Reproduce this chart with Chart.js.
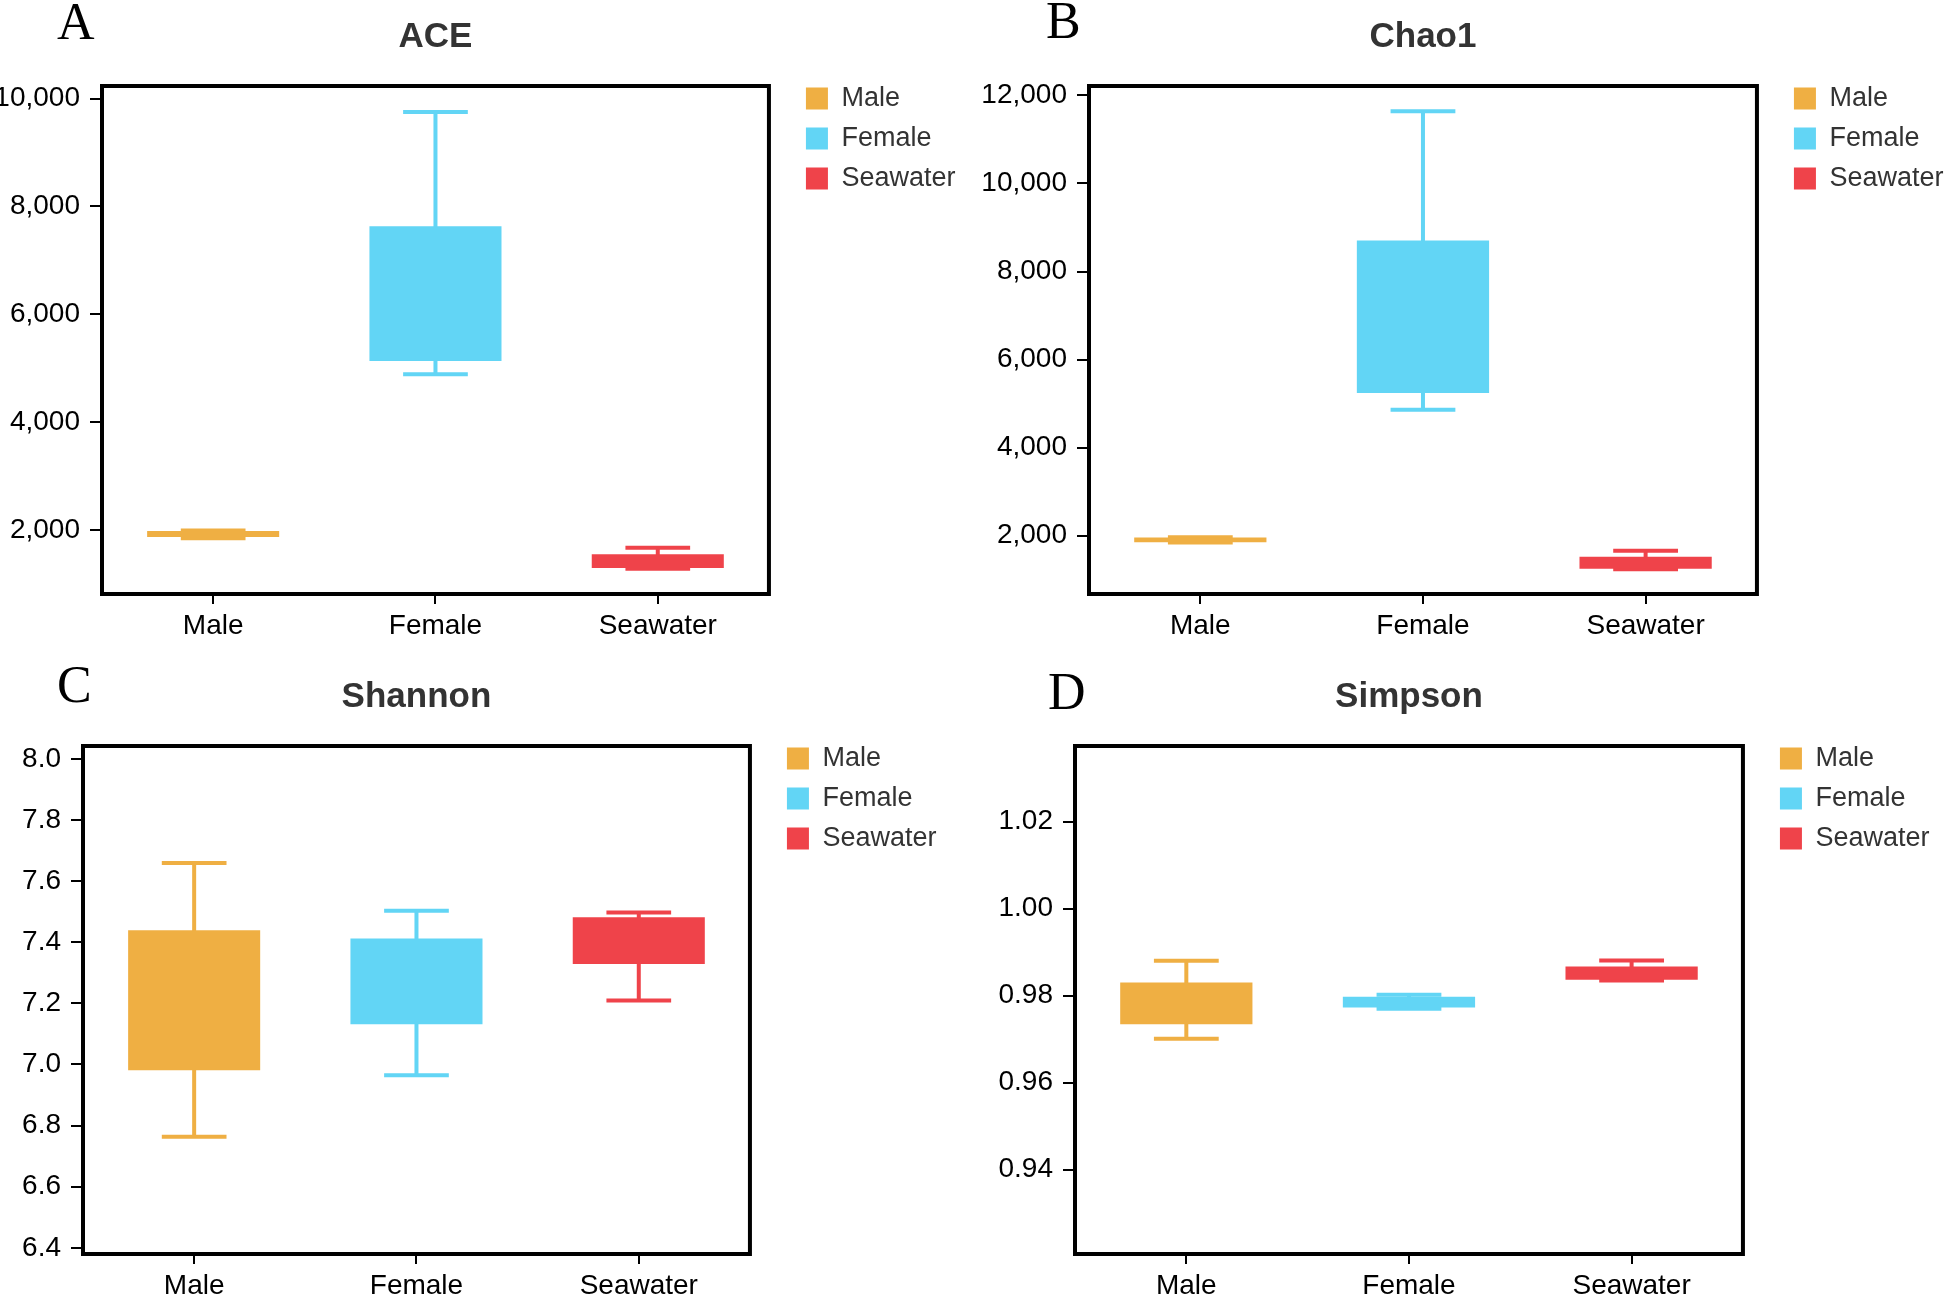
<!DOCTYPE html>
<html>
<head>
<meta charset="utf-8">
<script src="https://cdn.jsdelivr.net/npm/chart.js@4.4.1/dist/chart.umd.min.js"></script>
<style>
  html, body { margin: 0; padding: 0; background: #fff; overflow: hidden; }
  body { width: 1949px; height: 1296px; position: relative; }
  canvas { position: absolute; }
  .tag { position: absolute; font: 52px 'Liberation Serif', 'Times New Roman', serif; line-height: 52px; color: #000; }
</style>
</head>
<body>
<div class="tag" style="left:57px;top:-4px">A</div>
<div class="tag" style="left:1046px;top:-5px">B</div>
<div class="tag" style="left:57px;top:659px">C</div>
<div class="tag" style="left:1048px;top:666px">D</div>
<canvas id="ace" width="975" height="650" style="left:0px;top:0px"></canvas>
<canvas id="chao" width="985" height="650" style="left:975px;top:0px"></canvas>
<canvas id="shannon" width="975" height="650" style="left:0px;top:660px"></canvas>
<canvas id="simpson" width="985" height="650" style="left:975px;top:660px"></canvas>
<script>
const groups = ['Male', 'Female', 'Seawater']
const groupColors = ['#EFAF43', '#62D5F5', '#EF434A']

// ACE
const aceMin = [1845, 4885, 1280]
const aceQ1 = [1867, 5131, 1292]
const aceQ3 = [1979, 7631, 1546]
const aceMax = [1990, 9754, 1669]
const aceTicks = [2000, 4000, 6000, 8000, 10000]

// Chao1
const chaoMin = [1848, 4863, 1240]
const chaoQ1 = [1849, 5239, 1250]
const chaoQ3 = [1960, 8704, 1520]
const chaoMax = [1962, 11642, 1661]
const chaoTicks = [2000, 4000, 6000, 8000, 10000, 12000]

// Shannon
const shannonMin = [6.764, 6.965, 7.209]
const shannonQ1 = [6.981, 7.132, 7.329]
const shannonQ3 = [7.439, 7.412, 7.482]
const shannonMax = [7.659, 7.503, 7.497]
const shannonTicks = [6.4, 6.6, 6.8, 7.0, 7.2, 7.4, 7.6, 7.8, 8.0]

// Simpson
const simpsonMin = [0.9701, 0.9770, 0.9835]
const simpsonQ1 = [0.9734, 0.97725, 0.98365]
const simpsonQ3 = [0.9830, 0.97972, 0.98673]
const simpsonMax = [0.9880, 0.9802, 0.9881]
const simpsonTicks = [0.94, 0.96, 0.98, 1.00, 1.02]

Chart.defaults.font.family = "'Liberation Sans', Arial, sans-serif"
Chart.defaults.animation = false

// whiskers + caps drawn behind the boxes
const whiskerPlugin = {
  id: 'whiskers',
  beforeDatasetsDraw(chart) {
    const ctx = chart.ctx
    const y = chart.scales.y
    ctx.save()
    chart.data.datasets.forEach((ds, i) => {
      const meta = chart.getDatasetMeta(i)
      meta.data.forEach((bar, j) => {
        if (ds.data[j] == null) return
        const lo = y.getPixelForValue(ds.whiskerLow[j])
        const hi = y.getPixelForValue(ds.whiskerHigh[j])
        const half = bar.width * 0.245
        ctx.strokeStyle = ds.backgroundColor
        ctx.lineWidth = 4
        ctx.beginPath()
        ctx.moveTo(bar.x, hi)
        ctx.lineTo(bar.x, lo)
        ctx.moveTo(bar.x - half, hi)
        ctx.lineTo(bar.x + half, hi)
        ctx.moveTo(bar.x - half, lo)
        ctx.lineTo(bar.x + half, lo)
        ctx.stroke()
      })
    })
    ctx.restore()
  }
}

const framePlugin = {
  id: 'frame',
  afterDatasetsDraw(chart) {
    const { ctx, chartArea: a } = chart
    ctx.save()
    ctx.strokeStyle = '#000'
    ctx.lineWidth = 4
    ctx.strokeRect(a.left, a.top, a.right - a.left, a.bottom - a.top)
    ctx.restore()
  }
}

function drawPanel(id, title, lows, q1s, q3s, highs, ticks, yMin, yMax, digits, axisWidth, padRight) {
  const datasets = groups.map((name, g) => ({
    label: name,
    data: groups.map((_, j) => (j === g ? [q1s[j], q3s[j]] : null)),
    whiskerLow: lows,
    whiskerHigh: highs,
    backgroundColor: groupColors[g],
    borderWidth: 0,
    grouped: false,
    barPercentage: 0.594,
    categoryPercentage: 1.0,
  }))

  const fmt = (v) =>
    digits === 0 ? v.toLocaleString('en-US') : v.toFixed(digits)

  return new Chart(document.getElementById(id), {
    type: 'bar',
    data: { labels: groups, datasets: datasets },
    options: {
      responsive: false,
      layout: { padding: { top: 0, right: padRight, bottom: 0, left: 0 } },
      plugins: {
        tooltip: { enabled: false },
        title: {
          display: true,
          text: title,
          fullSize: false,
          color: '#333',
          font: { size: 35, weight: 'bold', lineHeight: 1.2 },
          padding: { top: 16, bottom: 28 },
        },
        legend: {
          position: 'right',
          align: 'start',
          fullSize: true,
          maxWidth: 260,
          title: { display: true, text: ' ', font: { size: 10, lineHeight: 1 }, padding: { top: 62, bottom: 0 } },
          labels: {
            boxWidth: 22,
            boxHeight: 22,
            padding: 13,
            color: '#333',
            font: { size: 27 },
          },
        },
      },
      scales: {
        x: {
          offset: true,
          grid: { display: true, drawOnChartArea: false, drawTicks: true, tickLength: 10, offset: false, color: '#000', lineWidth: 2 },
          border: { display: false },
          ticks: { color: '#000', font: { size: 28 }, padding: 5 },
          afterFit: (s) => { s.height = 56 },
        },
        y: {
          min: yMin,
          max: yMax,
          grid: { display: true, drawOnChartArea: false, drawTicks: true, tickLength: 12, color: '#000', lineWidth: 2 },
          border: { display: false },
          ticks: { color: '#000', font: { size: 28 }, padding: 10, callback: (v) => fmt(v) },
          afterBuildTicks: (s) => { s.ticks = ticks.map((v) => ({ value: v })) },
          afterFit: (s) => { s.width = axisWidth },
        },
        gap: {
          position: 'right',
          display: true,
          grid: { display: false },
          border: { display: false },
          ticks: { display: false },
          afterFit: (s) => { s.width = 24 },
        },
      },
    },
    plugins: [whiskerPlugin, framePlugin],
  })
}

drawPanel('ace', 'ACE', aceMin, aceQ1, aceQ3, aceMax, aceTicks, 810, 10235, 0, 102, 9.5)
drawPanel('chao', 'Chao1', chaoMin, chaoQ1, chaoQ3, chaoMax, chaoTicks, 676, 12213, 0, 114, 6.5)
drawPanel('shannon', 'Shannon', shannonMin, shannonQ1, shannonQ3, shannonMax, shannonTicks, 6.38, 8.042, 1, 83, 28.5)
drawPanel('simpson', 'Simpson', simpsonMin, simpsonQ1, simpsonQ3, simpsonMax, simpsonTicks, 0.9206, 1.0374, 2, 100, 20.5)
</script>
</body>
</html>
